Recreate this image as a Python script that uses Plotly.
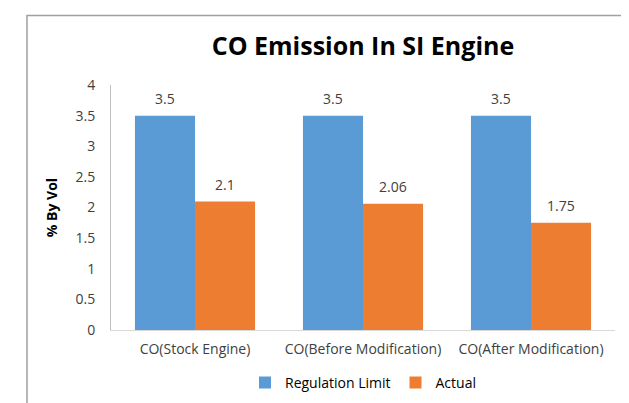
import plotly.graph_objects as go

categories = ["CO(Stock Engine)", "CO(Before Modification)", "CO(After Modification)"]
regulation_limit = [3.5, 3.5, 3.5]
actual = [2.1, 2.06, 1.75]
regulation_labels = ["3.5", "3.5", "3.5"]
actual_labels = ["2.1", "2.06", "1.75"]
y_ticks = [0, 0.5, 1, 1.5, 2, 2.5, 3, 3.5, 4]
y_tick_labels = ["0", "0.5", "1", "1.5", "2", "2.5", "3", "3.5", "4"]

FONT = "Open Sans"

fig = go.Figure()
fig.add_trace(go.Bar(name="Regulation Limit", x=categories, y=regulation_limit,
                     marker=dict(color="#5B9BD5", line=dict(width=0))))
fig.add_trace(go.Bar(name="Actual", x=categories, y=actual,
                     marker=dict(color="#ED7D31", line=dict(width=0))))

annotations = []
for series, labels, shift in ((regulation_limit, regulation_labels, -30),
                              (actual, actual_labels, 30)):
    for cat, val, lab in zip(categories, series, labels):
        annotations.append(dict(x=cat, y=val, xref="x", yref="y", text=lab,
                                showarrow=False, xshift=shift, yshift=17,
                                yanchor="middle",
                                font=dict(family=FONT, size=14, color="#404040")))

fig.update_layout(
    width=629, height=403,
    margin=dict(l=103, r=22, t=77, b=76),
    paper_bgcolor="white", plot_bgcolor="white",
    barmode="group", bargap=0.285, bargroupgap=0,
    font=dict(family=FONT, size=14, color="#404040"),
    title=dict(text="<b>CO Emission In SI Engine</b>", x=0.5, xref="paper",
               xanchor="center", y=0.905, yanchor="middle",
               font=dict(family=FONT, size=25, color="#000000")),
    xaxis=dict(showline=True, linecolor="#d9d9d9", linewidth=1, ticks="",
               ticklabelstandoff=6,
               tickfont=dict(family=FONT, size=14, color="#404040")),
    yaxis=dict(range=[0, 4], tickvals=y_ticks, ticktext=y_tick_labels,
               showgrid=False, zeroline=False, showline=True, linecolor="#bfbfbf",
               ticks="", ticklen=0, ticklabelstandoff=12,
               tickfont=dict(family=FONT, size=14, color="#404040"),
               title=dict(text="<b>% By Vol</b>", standoff=14,
                          font=dict(family=FONT, size=14, color="#000000"))),
    showlegend=True,
    legend=dict(orientation="h", x=0.5, xanchor="center", y=-0.216, yanchor="middle",
                font=dict(family=FONT, size=14, color="#000000"), traceorder="normal"),
    annotations=annotations,
    shapes=[dict(type="rect", xref="paper", yref="paper",
                 x0=-0.1667, x1=1.0357, y0=-0.4, y1=1.284,
                 line=dict(color="#a0a0a0", width=1.5), fillcolor="rgba(0,0,0,0)")],
)

fig.write_html("out.html")
